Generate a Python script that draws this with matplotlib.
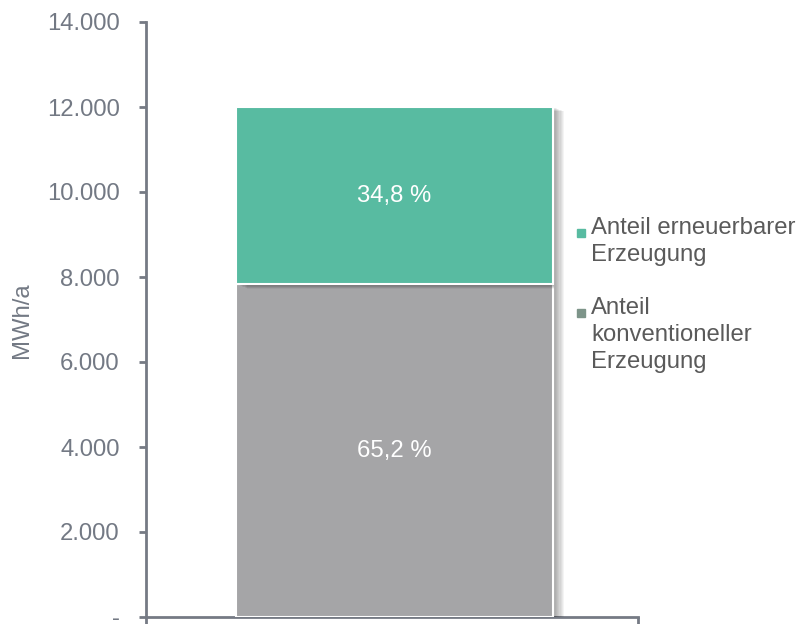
import matplotlib
matplotlib.use("Agg")
import matplotlib.pyplot as plt
from matplotlib.patches import Rectangle
import matplotlib.patheffects as pe
from matplotlib.ticker import FuncFormatter

plt.rcParams['font.family'] = ['Liberation Sans', 'DejaVu Sans']

# Data
categories = [""]
series_names = ["Anteil erneuerbarer\nErzeugung", "Anteil\nkonventioneller\nErzeugung"]
konventionell = [7824]
erneuerbar = [4176]
labels_konv = ["65,2 %"]
labels_ern = ["34,8 %"]
colors = ["#58BBA1", "#A5A5A7"]
legend_colors = ["#58BBA1", "#7D9489"]
yticks = [0, 2000, 4000, 6000, 8000, 10000, 12000, 14000]

axis_col = "#757A84"
tick_col = "#737984"
legend_text_col = "#5A5A5A"
FS = 17.2

fig = plt.figure(figsize=(8.01, 6.24), dpi=100)
ax = fig.add_axes([146/801, 7/624, (638-146)/801, (617-22)/624])

shadow = [pe.SimplePatchShadow(offset=(k*0.9, -k*0.35), alpha=0.045, shadow_rgbFace='k')
          for k in range(1, 10)] + [pe.Normal()]

x = list(range(len(categories)))
b1 = ax.bar(x, konventionell, width=0.645, color=colors[1], edgecolor='white', linewidth=1.5,
            zorder=3)
b2 = ax.bar(x, erneuerbar, bottom=konventionell, width=0.645, color=colors[0],
            edgecolor='white', linewidth=1.5, zorder=3)
for r in list(b1) + list(b2):
    r.set_path_effects(shadow)

for xi, k, e, lk, le in zip(x, konventionell, erneuerbar, labels_konv, labels_ern):
    ax.text(xi, k/2, lk, ha='center', va='center', color='white', fontsize=FS, zorder=5)
    ax.text(xi, k + e/2, le, ha='center', va='center', color='white', fontsize=FS, zorder=5)

ax.set_xlim(-0.505, 0.495)
ax.set_ylim(0, 14000)
ax.set_yticks(yticks)
ax.yaxis.set_major_formatter(FuncFormatter(
    lambda v, p: '-' if v == 0 else f"{v:,.0f}".replace(',', '.')))
ax.set_xticks([-0.505, 0.495])
ax.set_xticklabels(["", ""])

for s in ['top', 'right']:
    ax.spines[s].set_visible(False)
for s in ['left', 'bottom']:
    ax.spines[s].set_color(axis_col)
    ax.spines[s].set_linewidth(2)
ax.tick_params(axis='y', direction='out', length=5, width=2, color=axis_col,
               labelcolor=tick_col, labelsize=FS, pad=14)
ax.tick_params(axis='x', direction='out', length=6, width=2, color=axis_col)

fig.text(22/801, 1 - 320/624, "MWh/a", rotation=90, ha='center', va='center',
         color=tick_col, fontsize=FS)

# Legend (manual): square marker aligned with first line of each entry
entry_centers = [233, 313]
for name, col, yc in zip(series_names, legend_colors, entry_centers):
    fig.patches.append(Rectangle((577/801, 1 - (yc + 4)/624), 8/801, 8/624,
                                 transform=fig.transFigure, color=col))
    fig.text(591/801, 1 - (yc - 16)/624, name, ha='left', va='top',
             color=legend_text_col, fontsize=FS, linespacing=1.3)

fig.savefig("out.png", dpi=100)
